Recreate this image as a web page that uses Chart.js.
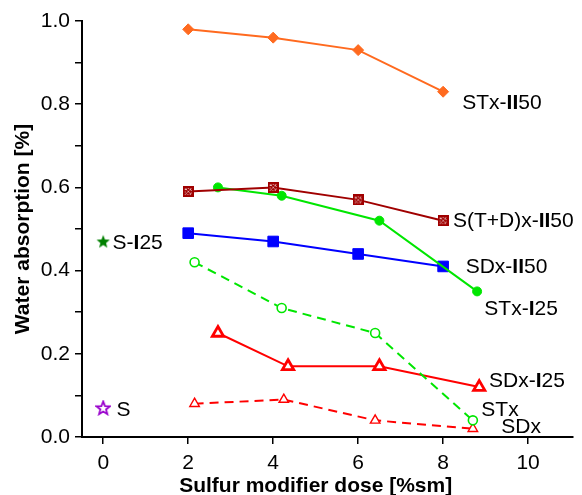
<!DOCTYPE html>
<html>
<head>
<meta charset="utf-8">
<script src="https://cdn.jsdelivr.net/npm/chart.js@4.4.1/dist/chart.umd.min.js"></script>
<style>
  html, body { margin: 0; padding: 0; background: #fff; }
  #wrap { width: 582px; height: 495px; }
</style>
</head>
<body>
<div id="wrap"><canvas id="absorptionChart"></canvas></div>
<script>
// ---- data ----
const xTickValues = [0, 2, 4, 6, 8, 10];

const stxII50X = [2, 4, 6, 8];
const stxII50Y = [0.98, 0.96, 0.93, 0.83];

const stdxII50X = [2, 4, 6, 8];
const stdxII50Y = [0.59, 0.60, 0.57, 0.52];

const stxI25X = [2.7, 4.2, 6.5, 8.8];
const stxI25Y = [0.60, 0.58, 0.52, 0.35];

const sdxII50X = [2, 4, 6, 8];
const sdxII50Y = [0.49, 0.47, 0.44, 0.41];

const stxX = [2.15, 4.2, 6.4, 8.7];
const stxY = [0.42, 0.31, 0.25, 0.04];

const sdxI25X = [2.7, 4.35, 6.5, 8.85];
const sdxI25Y = [0.25, 0.17, 0.17, 0.12];

const sdxX = [2.15, 4.25, 6.4, 8.7];
const sdxY = [0.08, 0.09, 0.04, 0.02];

const sI25X = [0];
const sI25Y = [0.47];

const sX = [0];
const sY = [0.07];

// series labels (text between * is bold)
const labelTexts = ['STx-*II*50', 'S(T+D)x-*II*50', 'SDx-*II*50', 'STx-*I*25', 'SDx-*I*25', 'STx', 'SDx', 'S-*I*25', 'S'];
const labelX = [8.45, 8.23, 8.53, 8.97, 9.08, 8.9, 9.37, 0.22, 0.31];
const labelY = [0.803, 0.519, 0.409, 0.308, 0.135, 0.065, 0.024, 0.466, 0.065];

const FONT = "'Liberation Sans', Arial, sans-serif";

// ---- custom marker images ----
function crossSquare(color) {
  const c = document.createElement('canvas');
  c.width = 11; c.height = 11;
  const g = c.getContext('2d');
  g.fillStyle = color;
  g.fillRect(0, 0, 11, 11);
  g.strokeStyle = '#fff';
  g.lineWidth = 1;
  g.setLineDash([1.5, 1]);
  g.beginPath();
  g.moveTo(3, 3); g.lineTo(8, 8);
  g.moveTo(8, 3); g.lineTo(3, 8);
  g.stroke();
  g.setLineDash([1, 1.5]);
  g.strokeStyle = 'rgba(255,255,255,0.7)';
  g.strokeRect(2.5, 2.5, 6, 6);
  return c;
}

function starImage(color, filled) {
  const size = 16;
  const c = document.createElement('canvas');
  c.width = size; c.height = size;
  const g = c.getContext('2d');
  const cx = size / 2, cy = size / 2 + 0.5, R = 7, r = 3;
  g.beginPath();
  for (let i = 0; i < 10; i++) {
    const rad = i % 2 === 0 ? R : r;
    const a = -Math.PI / 2 + i * Math.PI / 5;
    const px = cx + rad * Math.cos(a), py = cy + rad * Math.sin(a);
    if (i === 0) g.moveTo(px, py); else g.lineTo(px, py);
  }
  g.closePath();
  if (filled) { g.fillStyle = color; g.fill(); }
  else { g.strokeStyle = color; g.lineWidth = 1.8; g.stroke(); }
  return c;
}

function pts(xs, ys) {
  return xs.map((x, i) => ({ x, y: ys[i] }));
}

function series(label, xs, ys, color, opts) {
  return Object.assign({
    label,
    data: pts(xs, ys),
    showLine: true,
    borderColor: color,
    backgroundColor: color,
    pointBorderColor: color,
    pointBackgroundColor: color,
    borderWidth: 2,
    pointBorderWidth: 1,
    clip: false
  }, opts);
}

const datasets = [
  series('STx-II50', stxII50X, stxII50Y, '#ff6a1f', { pointStyle: 'rectRot', pointRadius: 5.5 }),
  series('S(T+D)x-II50', stdxII50X, stdxII50Y, '#a00000', { pointStyle: crossSquare('#a00000') }),
  series('STx-I25', stxI25X, stxI25Y, '#00e600', { pointStyle: 'circle', pointRadius: 4.5 }),
  series('SDx-II50', sdxII50X, sdxII50Y, '#0000ff', { pointStyle: 'rect', pointRadius: 7.5 }),
  series('STx', stxX, stxY, '#00e600', { pointStyle: 'circle', pointRadius: 4.5, pointBackgroundColor: '#fff', pointBorderWidth: 1.6, borderDash: [9, 6] }),
  series('SDx-I25', sdxI25X, sdxI25Y, '#ff0000', { pointStyle: 'triangle', pointRadius: 6.5, pointBackgroundColor: '#fff', pointBorderWidth: 2.8 }),
  series('SDx', sdxX, sdxY, '#ff0000', { pointStyle: 'triangle', pointRadius: 5.5, pointBackgroundColor: '#fff', pointBorderWidth: 1.4, borderDash: [9, 6] }),
  series('S-I25', sI25X, sI25Y, '#008000', { showLine: false, pointStyle: starImage('#008000', true) }),
  series('S', sX, sY, '#9900cc', { showLine: false, pointStyle: starImage('#9900cc', false) })
];

// draws the series names and the axis titles
const annotations = {
  id: 'annotations',
  afterDatasetsDraw(chart) {
    const { ctx, scales: { x, y } } = chart;
    ctx.save();
    ctx.fillStyle = '#000';
    ctx.textBaseline = 'middle';
    ctx.textAlign = 'left';
    labelTexts.forEach((txt, i) => {
      let px = x.getPixelForValue(labelX[i]);
      const py = y.getPixelForValue(labelY[i]);
      txt.split('*').forEach((part, j) => {
        if (!part) return;
        ctx.font = (j % 2 ? 'bold ' : '') + '21px ' + FONT;
        ctx.fillText(part, px, py);
        px += ctx.measureText(part).width;
      });
    });

    // axis titles
    ctx.font = 'bold 21px ' + FONT;
    ctx.textAlign = 'center';
    ctx.fillText('Sulfur modifier dose [%sm]', x.getPixelForValue(5), 486);
    ctx.translate(23, (chart.chartArea.top + chart.chartArea.bottom) / 2);
    ctx.rotate(-Math.PI / 2);
    ctx.fillText('Water absorption [%]', 0, 0);
    ctx.restore();
  }
};

new Chart(document.getElementById('absorptionChart'), {
  type: 'scatter',
  data: { datasets },
  options: {
    responsive: true,
    maintainAspectRatio: false,
    animation: false,
    layout: { padding: { top: 21, right: 4, left: 0, bottom: 0 } },
    plugins: { legend: { display: false }, tooltip: { enabled: false } },
    scales: {
      x: {
        type: 'linear',
        min: -0.5,
        max: 11.05,
        afterBuildTicks: s => { s.ticks = xTickValues.map(v => ({ value: v })); },
        afterFit: s => { s.height = 58; },
        border: { display: true, color: '#000', width: 2 },
        grid: { drawOnChartArea: false, drawTicks: true, tickLength: 7, color: '#000', lineWidth: 1.5 },
        ticks: { color: '#000', padding: 7, font: { family: FONT, size: 21 }, maxRotation: 0 }
      },
      y: {
        type: 'linear',
        min: 0,
        max: 1.0,
        afterFit: s => { s.width = 82; },
        border: { display: true, color: '#000', width: 2 },
        grid: { drawOnChartArea: false, drawTicks: true, tickLength: 7, color: '#000', lineWidth: 1.5 },
        ticks: {
          stepSize: 0.1,
          color: '#000',
          padding: 5,
          font: { family: FONT, size: 21 },
          callback: v => (Math.round(v * 10) % 2 === 0 ? v.toFixed(1) : '')
        }
      }
    }
  },
  plugins: [annotations]
});
</script>
</body>
</html>
